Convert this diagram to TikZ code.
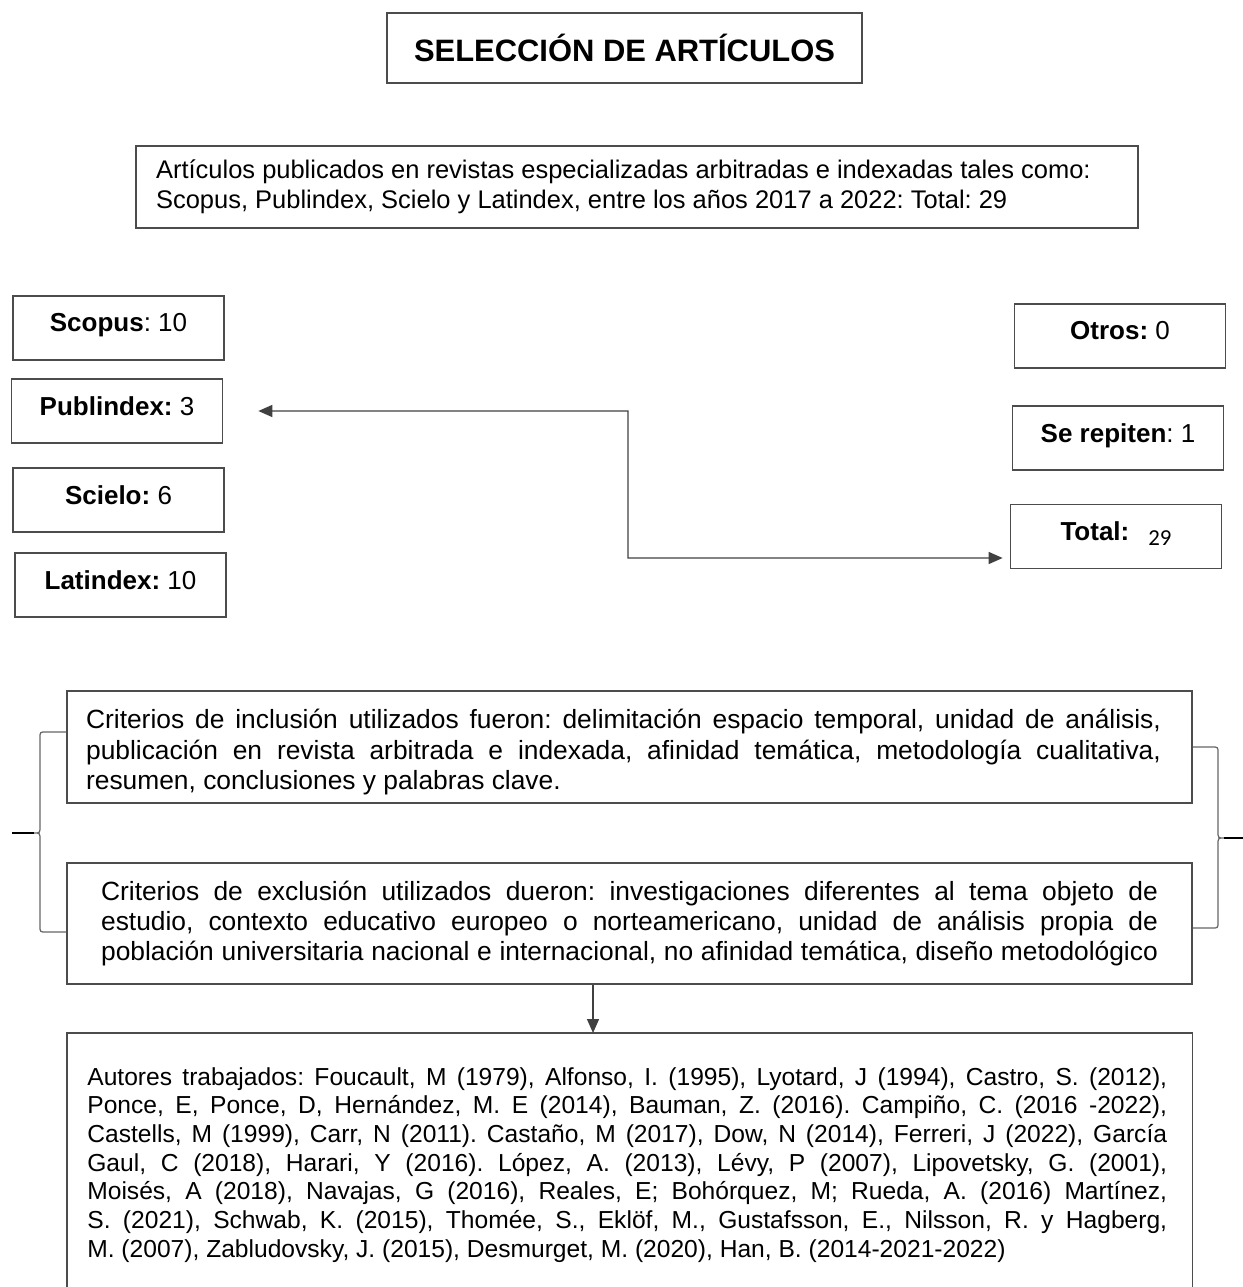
\documentclass[tikz,border=0pt]{standalone}
\usepackage{fontspec}
\setmainfont{Liberation Sans}
\newfontfamily\carlito{Carlito}
\usetikzlibrary{arrows.meta}
\newcommand{\fullline}[2]{\makebox[#1][s]{\spaceskip=0.278em plus 1fil\xspaceskip=0.278em plus 1fil\relax#2}}

\begin{document}
\begin{tikzpicture}[
  x=0.02cm, y=-0.02cm,
  plainspace/.style={execute at begin node={\spaceskip=0pt\xspaceskip=0pt\frenchspacing}},
  box/.style={rectangle, draw=black!70, line width=1pt, inner sep=0pt},
  titlebox/.style={box, minimum width=9.5cm, minimum height=1.4cm,
                   font=\fontsize{17.6}{20}\selectfont\bfseries},
  countbox/.style={box, plainspace, minimum width=4.22cm, minimum height=1.28cm,
                   text height=0.39cm, text depth=0.23cm, font=\fontsize{14.8}{17}\selectfont},
  textbox/.style={box, align=left, plainspace, font=\fontsize{15}{17.1}\selectfont},
  frame/.style={draw=black!70, line width=1pt},
  conn/.style={draw=black!75, line width=0.8pt},
  arrow/.style={conn, -{Triangle[length=0.28cm, width=0.24cm]}},
  twoway/.style={conn, {Triangle[length=0.28cm, width=0.24cm]}-{Triangle[length=0.28cm, width=0.24cm]}},
  brace/.style={draw=black!60, line width=0.7pt},
  bracetip/.style={draw=black, line width=1.6pt}
]
\useasboundingbox (0,0) rectangle (1243,1287);

\node[titlebox] (title) at (624.5,48) {SELECCIÓN DE ARTÍCULOS};
\node[textbox, text width=19.24cm, inner xsep=0.4cm, minimum height=1.64cm,
      font=\fontsize{14.5}{17.1}\selectfont] (corpus) at (637,187)
  {Artículos publicados en revistas especializadas arbitradas e indexadas tales como:\\
   Scopus, Publindex, Scielo y Latindex, entre los años 2017 a 2022: Total: 29};

\node[countbox] (scopus) at (118.5,328) {\textbf{Scopus}: 10};
\node[countbox] (publindex) at (117,411) {\textbf{Publindex:} 3};
\node[countbox] (scielo) at (118.5,500) {\textbf{Scielo:} 6};
\node[countbox] (latindex) at (120.5,585) {\textbf{Latindex:} 10};

\node[countbox] (otros) at (1120,336) {\textbf{Otros:} 0};
\node[countbox] (repiten) at (1118,438) {\textbf{Se repiten}: 1};
\node[countbox] (total) at (1116,536.5)
  {\textbf{Total:}\hspace{0.38cm}\raisebox{-0.1cm}{\carlito\fontsize{13}{15}\selectfont 29}};

\node[textbox, text width=21.74cm, inner xsep=0.38cm, minimum height=2.24cm] (incl) at (629.5,747)
  {\rule{0pt}{0.59cm}\fullline{21.5cm}{Criterios de inclusión utilizados fueron: delimitación espacio temporal, unidad de análisis,}\\
   \fullline{21.5cm}{publicación en revista arbitrada e indexada, afinidad temática, metodología cualitativa,}\\
   resumen, conclusiones y palabras clave.};
\node[textbox, text width=21.14cm, inner xsep=0.68cm, minimum height=2.42cm] (excl) at (629.5,923.5)
  {\fullline{21.14cm}{Criterios de exclusión utilizados dueron: investigaciones diferentes al tema objeto de}\\
   \fullline{21.14cm}{estudio, contexto educativo europeo o norteamericano, unidad de análisis propia de}\\
   \fullline{21.14cm}{población universitaria nacional e internacional, no afinidad temática, diseño metodológico}};

\node[anchor=north west, inner xsep=0.4cm, inner ysep=0.68cm, text width=21.7cm, align=left, plainspace,
      font=\fontsize{14}{16.3}\selectfont] (autores) at (67,1033)
  {\fullline{21.6cm}{Autores trabajados: Foucault, M (1979), Alfonso, I. (1995), Lyotard, J (1994), Castro, S. (2012),}\\
   \fullline{21.6cm}{Ponce, E, Ponce, D, Hernández, M. E (2014), Bauman, Z. (2016). Campiño, C. (2016 -2022),}\\
   \fullline{21.6cm}{Castells, M (1999), Carr, N (2011). Castaño, M (2017), Dow, N (2014), Ferreri, J (2022), García}\\
   \fullline{21.6cm}{Gaul, C (2018), Harari, Y (2016). López, A. (2013), Lévy, P (2007), Lipovetsky, G. (2001),}\\
   \fullline{21.6cm}{Moisés, A (2018), Navajas, G (2016), Reales, E; Bohórquez, M; Rueda, A. (2016) Martínez,}\\
   \fullline{21.6cm}{S. (2021), Schwab, K. (2015), Thomée, S., Eklöf, M., Gustafsson, E., Nilsson, R. y Hagberg,}\\
   M. (2007), Zabludovsky, J. (2015), Desmurget, M. (2020), Han, B. (2014-2021-2022)};
\coordinate (pie) at (0,1287);
\draw[frame] (autores.north west |- pie) -- (autores.north west) -- (autores.north east) -- (autores.north east |- pie);

\coordinate (totin) at ([yshift=-0.43cm]total.west);
\draw[twoway, shorten <=0.7cm, shorten >=0.14cm] (publindex.east) -| (628,558) -- (totin);

\coordinate (drop) at ([xshift=-0.73cm]excl.south);
\draw[arrow] (drop) -- (drop |- autores.north);

\draw[brace] ([yshift=0.3cm]incl.west) -- (46,732) .. controls (40,732) .. (40,738) -- (40,826)
  .. controls (40,833) .. (34,833) .. controls (40,833) .. (40,840) -- (40,926)
  .. controls (40,932) .. (46,932) -- ([yshift=-0.17cm]excl.west);
\draw[bracetip] (34,833) -- (12,833);
\draw[brace] (incl.east) -- (1212,747) .. controls (1218,747) .. (1218,753) -- (1218,831)
  .. controls (1218,838) .. (1224,838) .. controls (1218,838) .. (1218,845) -- (1218,922)
  .. controls (1218,928) .. (1212,928) -- ([yshift=-0.09cm]excl.east);
\draw[bracetip] (1224,838) -- (1243,838);
\end{tikzpicture}
\end{document}
